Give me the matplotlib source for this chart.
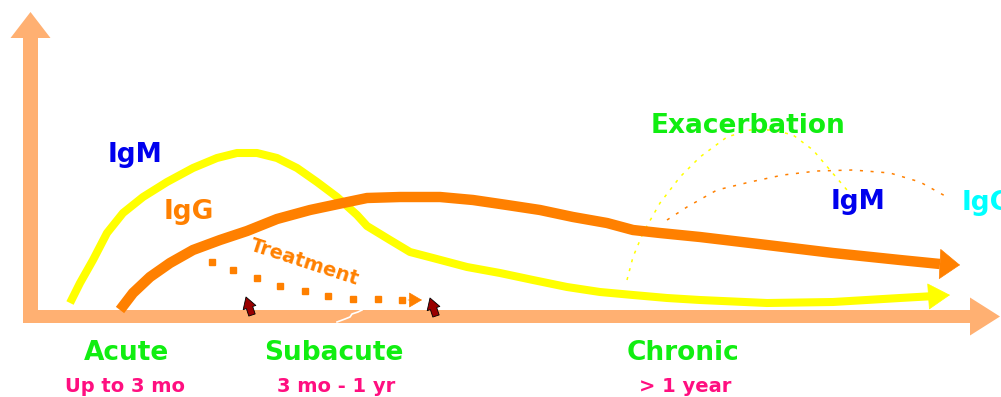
import matplotlib
matplotlib.use("Agg")
import matplotlib.pyplot as plt
from matplotlib.patches import FancyArrow
import numpy as np

# curves (pixel-like units, y grows downwards)
igm_x = [70, 80, 93, 107, 123, 143, 167, 193, 217, 237, 257, 277, 297, 317, 337, 357, 367, 390, 410,
         433, 467, 500, 533, 567, 600, 633, 667, 700, 767, 833, 900, 935]
igm_y = [303, 283, 260, 233, 213, 197, 182, 168, 158, 153, 153, 158, 168, 182, 197, 215, 226, 240, 252,
         258, 267, 273, 280, 287, 292, 295, 298, 300, 303, 302, 298, 296]
igm_tip = (950, 295)

igg_x = [120, 133, 150, 170, 193, 220, 247, 277, 310, 343, 367, 400, 440, 473, 507, 540, 573, 607,
         633, 660, 700, 767, 833, 900, 940]
igg_y = [310, 293, 277, 263, 250, 240, 231, 219, 210, 203, 198, 197, 197, 200, 205, 210, 217, 223,
         230, 233, 237, 245, 253, 260, 264]
igg_tip = (960, 265)

treat_x = [212, 233, 257, 280, 305, 328, 353, 378, 402]
treat_y = [262, 270, 278, 286, 291, 296, 299, 299, 300]
treat_tip = (422, 300)

exac_igm_x = [627, 633, 643, 660, 680, 700, 727, 750, 773, 793, 813, 830, 847]
exac_igm_y = [280, 257, 233, 203, 177, 157, 137, 130, 130, 135, 150, 170, 190]
exac_igg_x = [667, 687, 717, 750, 783, 817, 853, 890, 920, 947]
exac_igg_y = [220, 207, 190, 182, 175, 171, 170, 173, 182, 197]

pins_x = [249, 433]
pins_y = [307, 308]

stages = ["Acute", "Subacute", "Chronic"]
stage_x = [127, 334, 683]
durations = ["Up to 3 mo", "3 mo - 1 yr", "> 1 year"]
dur_x = [125, 336, 685]

YELLOW = "#FFFF00"
ORANGE = "#FF8000"
AXIS = "#FFB072"
GREEN = "#11EE11"
PINK = "#FF0F80"
BLUE = "#0000EE"

fig = plt.figure(figsize=(10.01, 3.97), dpi=100)
ax = fig.add_axes([0, 0, 1, 1])
ax.set_xlim(0, 1001)
ax.set_ylim(397, 0)
ax.axis("off")

# axes arrows
ax.add_patch(FancyArrow(23, 316.5, 977, 0, width=13, head_width=38, head_length=30,
                        length_includes_head=True, color=AXIS, lw=0))
ax.add_patch(FancyArrow(30.5, 323, 0, -311, width=15, head_width=40, head_length=26,
                        length_includes_head=True, color=AXIS, lw=0))

# white scratch on the axis
ax.plot([337, 345, 350, 352, 358, 362], [322, 319, 317, 314, 312, 310], color="white", lw=1.2)

# exacerbation dotted curves
ax.plot(exac_igm_x, exac_igm_y, color=YELLOW, lw=1.1, ls=(0, (2, 4)))
ax.plot(exac_igg_x, exac_igg_y, color=ORANGE, lw=1.1, ls=(0, (2, 5)))

# IgM and IgG curves
ax.plot(igm_x, igm_y, color=YELLOW, lw=5.8, solid_joinstyle="round", solid_capstyle="butt")
ax.annotate("", xy=igm_tip, xytext=(igm_x[-1], igm_y[-1]),
            arrowprops=dict(arrowstyle="-|>,head_length=1.5,head_width=0.9", mutation_scale=10,
                            color=YELLOW, lw=0.5, shrinkA=0, shrinkB=0))
ax.plot(igg_x, igg_y, color=ORANGE, lw=7.5, solid_joinstyle="round", solid_capstyle="butt")
ax.annotate("", xy=igg_tip, xytext=(igg_x[-1], igg_y[-1]),
            arrowprops=dict(arrowstyle="-|>,head_length=1.4,head_width=1.05", mutation_scale=10,
                            color=ORANGE, lw=0.5, shrinkA=0, shrinkB=0))

# treatment
ax.plot(treat_x, treat_y, ls="none", marker="s", ms=4, color=ORANGE)
ax.annotate("", xy=treat_tip, xytext=(treat_x[-1] + 6, treat_y[-1]),
            arrowprops=dict(arrowstyle="-|>,head_length=0.85,head_width=0.5", mutation_scale=10,
                            color=ORANGE, lw=0.5, shrinkA=0, shrinkB=0))
ax.text(305, 262, "Treatment", color=ORANGE, fontsize=14, fontweight="bold",
        rotation=-18, ha="center", va="center", rotation_mode="anchor")

for px, py in zip(pins_x, pins_y):
    ax.annotate("", xy=(px - 3, py - 10), xytext=(px + 3, py + 8),
                arrowprops=dict(arrowstyle="simple,head_length=0.5,head_width=0.6,tail_width=0.3",
                                mutation_scale=16, fc="#990000", ec="black", lw=0.6,
                                shrinkA=0, shrinkB=0))

font = dict(family="DejaVu Sans", fontweight="bold")
ax.text(135, 162, "IgM", color=BLUE, fontsize=19, ha="center", va="baseline", **font)
ax.text(189, 219, "IgG", color=ORANGE, fontsize=19, ha="center", va="baseline", **font)
ax.text(748, 133, "Exacerbation", color=GREEN, fontsize=19, ha="center", va="baseline", **font)
ax.text(858, 209, "IgM", color=BLUE, fontsize=19, ha="center", va="baseline", **font)
ax.text(962, 210, "IgG", color="#00FFFF", fontsize=19, ha="left", va="baseline", **font)

for s, x in zip(stages, stage_x):
    ax.text(x, 360, s, color=GREEN, fontsize=19, ha="center", va="baseline", **font)
for d, x in zip(durations, dur_x):
    ax.text(x, 392, d, color=PINK, fontsize=14, ha="center", va="baseline", **font)

fig.savefig("out.png", dpi=100)
